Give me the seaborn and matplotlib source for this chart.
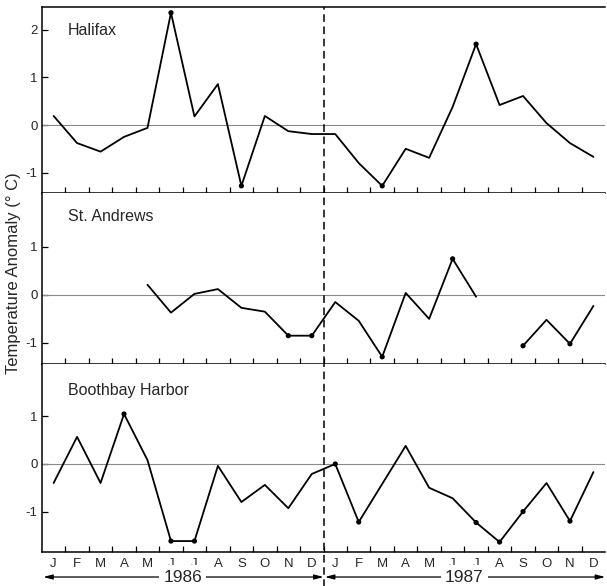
import numpy as np
import pandas as pd
import matplotlib
matplotlib.use("Agg")
import matplotlib.pyplot as plt
import seaborn as sns

# ── Data (monthly temperature anomalies, °C, Jan 1986 - Dec 1987) ────────────
months = ["J", "F", "M", "A", "M", "J", "J", "A", "S", "O", "N", "D"] * 2
stations = ["Halifax", "St. Andrews", "Boothbay Harbor"]

halifax = [0.19, -0.38, -0.56, -0.25, -0.06, 2.36, 0.18, 0.86, -1.28, 0.19, -0.13, -0.19,
           -0.19, -0.80, -1.28, -0.50, -0.69, 0.38, 1.70, 0.42, 0.61, 0.04, -0.38, -0.67]
st_andrews = [np.nan, np.nan, np.nan, np.nan, 0.21, -0.37, 0.02, 0.12, -0.27, -0.35, -0.85, -0.85,
              -0.15, -0.54, -1.29, 0.04, -0.50, 0.75, -0.04, np.nan, -1.06, -0.52, -1.02, -0.23]
boothbay = [-0.40, 0.57, -0.40, 1.05, 0.08, -1.62, -1.62, -0.04, -0.80, -0.44, -0.93, -0.21,
            0.00, -1.22, -0.42, 0.38, -0.50, -0.72, -1.23, -1.64, -1.00, -0.40, -1.20, -0.17]

# months (index) that carry a dot marker
halifax_dots = [5, 8, 14, 18]
st_andrews_dots = [10, 11, 14, 17, 20, 22]
boothbay_dots = [3, 5, 6, 12, 13, 18, 19, 20, 22]

years = ["1986", "1987"]

series = [halifax, st_andrews, boothbay]
dots = [halifax_dots, st_andrews_dots, boothbay_dots]
ylims = [(-1.43, 2.48), (-1.44, 2.12), (-1.85, 2.1)]
yticks = [[-1, 0, 1, 2], [-1, 0, 1], [-1, 0, 1]]

# ── Style ────────────────────────────────────────────────────────────────────
sns.set_theme(style="white")
plt.rcParams["font.family"] = ["Liberation Sans", "DejaVu Sans"]
plt.rcParams["axes.unicode_minus"] = False

fig = plt.figure(figsize=(6.07, 5.86), dpi=100)
gs = fig.add_gridspec(3, 1, height_ratios=[186, 171, 188], hspace=0,
                      left=0.069, right=0.997, top=0.988, bottom=0.058)
axes = [fig.add_subplot(gs[i]) for i in range(3)]

idx = np.arange(len(months))

for i, ax in enumerate(axes):
    vals = pd.Series(series[i])
    seg = vals.isna().cumsum()
    df = pd.DataFrame({"m": idx, "v": vals, "seg": seg}).dropna()

    ax.axhline(0, color="#8a8a8a", lw=0.8, zorder=1)
    sns.lineplot(data=df, x="m", y="v", units="seg", estimator=None,
                 color="black", lw=1.3, ax=ax, zorder=3)
    dd = df[df["m"].isin(dots[i])]
    sns.scatterplot(data=dd, x="m", y="v", color="black", s=14,
                    edgecolor="none", ax=ax, zorder=4)

    ax.axvline(11.5, color="black", lw=1.1, ls=(0, (5, 3)), zorder=2,
               ymin=-0.5 if i == 2 else 0, clip_on=False)

    ax.set_xlim(-0.5, 23.5)
    ax.set_ylim(*ylims[i])
    ax.set_yticks(yticks[i])
    ax.set_yticklabels([str(t) for t in yticks[i]], fontsize=9.5)
    ax.set_xticks(idx)
    ax.set_xticks(np.arange(0.5, 23, 1), minor=True)
    ax.tick_params(axis="x", which="major", length=0, pad=4, labelsize=9.5)
    ax.tick_params(axis="x", which="minor", direction="in", length=4,
                   width=0.9, bottom=True, color="black")
    ax.tick_params(axis="y", direction="in", length=4, width=0.9,
                   left=True, color="black", pad=3)
    if i == 2:
        ax.set_xticklabels(months)
    else:
        ax.set_xticklabels([])
    ax.set_xlabel("")
    ax.set_ylabel("")

    for side in ["left", "bottom", "top"]:
        ax.spines[side].set_color("black")
        ax.spines[side].set_linewidth(1.1)
    ax.spines["right"].set_visible(False)
    if i > 0:
        ax.spines["top"].set_visible(False)

    ax.text(0.046, 0.875 if i == 0 else 0.86, stations[i], transform=ax.transAxes,
            fontsize=11.5, va="center", ha="left")

# ── Year ranges under the bottom panel ───────────────────────────────────────
ax = axes[2]
tr = ax.get_xaxis_transform()
for k, yr in enumerate(years):
    x0, x1 = -0.5 + 12 * k, 11.5 + 12 * k
    ax.annotate("", xy=(x0, -0.133), xytext=(x1, -0.133), xycoords=tr,
                textcoords=tr,
                arrowprops=dict(arrowstyle="<|-|>,head_length=0.45,head_width=0.12",
                                lw=0.9, color="black", shrinkA=0, shrinkB=1),
                annotation_clip=False)
    ax.text((x0 + x1) / 2, -0.133, yr, transform=tr, ha="center", va="center",
            fontsize=12.5, bbox=dict(facecolor="white", edgecolor="none", pad=3))

fig.text(0.022, 0.534, "Temperature Anomaly (° C)", rotation=90,
         ha="center", va="center", fontsize=12)

plt.savefig("out.png", dpi=100, facecolor="white")
plt.close()
